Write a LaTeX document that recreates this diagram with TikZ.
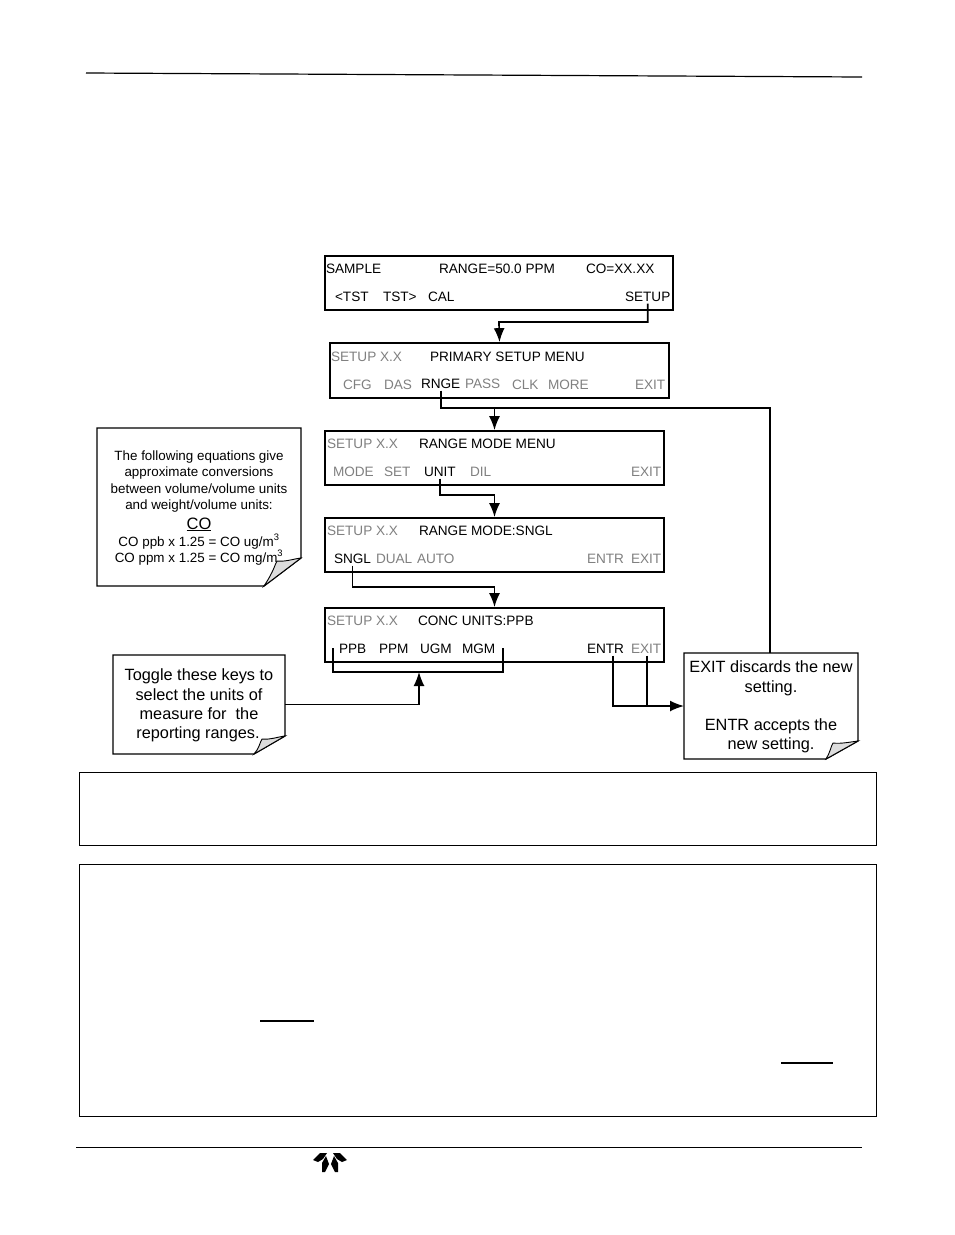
\documentclass[tikz,border=0pt]{standalone}
\usepackage{fontspec}
\setmainfont{Liberation Sans}
\usetikzlibrary{arrows.meta}
\definecolor{keygray}{HTML}{808080}
\definecolor{foldgray}{HTML}{DDDDDD}
\tikzset{
  menubox/.style={draw=black,line width=1.7pt,minimum height=54pt,inner sep=0pt},
  lab/.style={anchor=base west,inner sep=0pt,outer xsep=0pt,outer ysep=2.5pt,font=\fontsize{13.6pt}{16pt}\selectfont,text=black},
  off/.style={lab,text=keygray},
  notetxt/.style={anchor=base,inner sep=0pt,font=\fontsize{13.4pt}{16pt}\selectfont},
  bigtxt/.style={anchor=base,inner sep=0pt,font=\fontsize{16.3pt}{19pt}\selectfont},
  conn/.style={line width=1.7pt,draw=black},
  arrowed/.style={conn,-{Latex[length=14pt,width=11pt]}},
  thinconn/.style={line width=1.3pt,draw=black},
  frame/.style={draw=black,line width=1pt,inner sep=0pt},
  rule/.style={draw=black,line width=1.2pt},
  noteline/.style={draw=black,line width=1.3pt,fill=white},
  foldline/.style={draw=black,line width=0.9pt,fill=foldgray},
  petal/.style={fill=black,draw=none}
}
% note outline: #1 left, #2 top, #3 right, #4 bottom, #5 fold-x, #6 fold-y, #7 curve mid x, #8 curve mid y
\newcommand{\notepaper}[8]{%
  \draw[noteline] (#1,#2) -- (#3,#2) -- (#3,#6) -- (#5,#4) -- (#1,#4) -- cycle;
  \draw[foldline] (#5,#4) .. controls (#7-3,#8+10) and (#7-2,#8+3) .. (#7,#8) .. controls (#7+8,#8+1) and (#3-8,#6+1) .. (#3,#6) -- cycle;
}
\begin{document}
\begin{tikzpicture}[x=1pt,y=-1pt]
\useasboundingbox (0,0) rectangle (954,1235);
\fill[white] (0,0) rectangle (954,1235);

% page rules
\coordinate (hl) at (86,73); \coordinate (hr) at (862,77);
\draw[rule] (hl) -- (hr);
\coordinate (fl) at (76,1147); \coordinate (fr) at (862,1147);
\draw[line width=1pt] (fl) -- (fr);

% menu boxes
\node[menubox,minimum width=348pt] (b1) at (499,283) {};
\node[menubox,minimum width=339pt,minimum height=55pt] (b2) at (499.5,370.5) {};
\node[menubox,minimum width=339pt] (b3) at (494.5,458) {};
\node[menubox,minimum width=339pt] (b4) at (494.5,545) {};
\node[menubox,minimum width=339pt] (b5) at (494.5,635) {};

% box 1
\node[lab] (t1a) at (326,273) {SAMPLE};
\node[lab] (t1b) at (439,273) {RANGE=50.0 PPM};
\node[lab] (t1c) at (586,273) {CO=XX.XX};
\node[lab] (k1a) at (335,301) {<TST};
\node[lab] (k1b) at (383,301) {TST>};
\node[lab] (k1c) at (428,301) {CAL};
\node[lab] (setup) at (625,301) {SETUP};
% box 2
\node[off] (t2a) at (331,361) {SETUP X.X};
\node[lab] (t2b) at (430,361) {PRIMARY SETUP MENU};
\node[off] (k2a) at (343,389) {CFG};
\node[off] (k2b) at (384,389) {DAS};
\node[lab] (rnge) at (421,388) {RNGE};
\node[off] (k2d) at (465,388) {PASS};
\node[off] (k2e) at (512,389) {CLK};
\node[off] (k2f) at (548,389) {MORE};
\node[off] (k2g) at (635,389) {EXIT};
% box 3
\node[off] (t3a) at (327,448) {SETUP X.X};
\node[lab] (t3b) at (419,448) {RANGE MODE MENU};
\node[off] (k3a) at (333,476) {MODE};
\node[off] (k3b) at (384,476) {SET};
\node[lab] (unit) at (424,476) {UNIT};
\node[off] (k3d) at (470,476) {DIL};
\node[off] (k3e) at (631,476) {EXIT};
% box 4
\node[off] (t4a) at (327,535) {SETUP X.X};
\node[lab] (t4b) at (419,535) {RANGE MODE:SNGL};
\node[lab] (sngl) at (334,563) {SNGL};
\node[off] (k4b) at (376,563) {DUAL};
\node[off] (k4c) at (417,563) {AUTO};
\node[off] (k4d) at (587,563) {ENTR};
\node[off] (k4e) at (631,563) {EXIT};
% box 5
\node[off] (t5a) at (327,625) {SETUP X.X};
\node[lab] (t5b) at (418,625) {CONC UNITS:PPB};
\node[lab] (k5a) at (339,653) {PPB};
\node[lab] (k5b) at (379,653) {PPM};
\node[lab] (k5c) at (420,653) {UGM};
\node[lab] (k5d) at (462,653) {MGM};
\node[lab] (entr) at (587,653) {ENTR};
\node[off] (exit) at (631,653) {EXIT};

% notes
\notepaper{97}{428}{301}{586}{264}{558}{277}{561}
\notepaper{113}{655}{285}{754}{254}{736}{262}{739}
\notepaper{684}{653}{858}{759}{826}{741}{833}{743}
\node[inner sep=0pt,outer sep=0pt,minimum width=172pt,minimum height=99pt] (n2) at (199,704.5) {};
\node[inner sep=0pt,outer sep=0pt,minimum width=174pt,minimum height=106pt] (n3) at (771,706) {};

\node[notetxt] (a1) at (199,460) {The following equations give};
\node[notetxt] (a2) at (199,476) {approximate conversions};
\node[notetxt] (a3) at (199,493) {between volume/volume units};
\node[notetxt] (a4) at (199,509) {and weight/volume units:};
\node[bigtxt,font=\fontsize{16.5pt}{19pt}\selectfont] (a5) at (199,529) {\underline{CO}};
\node[notetxt] (a6) at (199,546) {CO ppb x 1.25 = CO ug/m\textsuperscript{3}};
\node[notetxt] (a7) at (199,562) {CO ppm x 1.25 = CO mg/m\textsuperscript{3}};

\node[bigtxt] (c1) at (199,680) {Toggle these keys to};
\node[bigtxt] (c2) at (199,700) {select the units of};
\node[bigtxt] (c3) at (199,719) {measure for\ \ the};
\node[bigtxt] (c4) at (198,738) {reporting ranges.};

\node[bigtxt] (d1) at (771,672) {EXIT discards the new};
\node[bigtxt] (d2) at (771,692) {setting.};
\node[bigtxt] (d3) at (771,730) {ENTR accepts the};
\node[bigtxt] (d4) at (771,749) {new setting.};

% connectors
\coordinate (j1) at (499,322);
\draw[arrowed] (setup.south) |- (j1) -- (b2.north);
\coordinate (j2) at (494.5,408);
\coordinate (j3) at (770,408);
\draw[conn] (rnge.south) |- (j2);
\draw[arrowed] (j2) -- (b3.north);
\draw[thinconn] (j2) -- (j3) -- (n3.north -| j3);
\coordinate (j4) at (494.5,495);
\draw[arrowed] (unit.south) |- (j4) -- (b4.north);
\coordinate (j5) at (494.5,587);
\draw[arrowed] (sngl.south) |- (j5) -- (b5.north);
\coordinate (br1) at (333,648); \coordinate (br2) at (333,672);
\coordinate (br3) at (503,672); \coordinate (br4) at (503,648);
\draw[conn] (br1) -- (br2) -- (br3) -- (br4);
\coordinate (br5) at (419,672);
\draw[arrowed,line width=1.5pt] (n2.east) -| (br5);
\draw[arrowed] ([xshift=7.6pt]entr.south) |- (n3.west);
\draw[conn] ([xshift=0.6pt]exit.south) -- ([xshift=0.6pt]exit.south |- n3.west);

% text boxes
\node[frame,minimum width=797.5pt,minimum height=73.5pt] (boxa) at (478,809) {};
\node[frame,minimum width=797.5pt,minimum height=252.5pt] (boxb) at (478,990.5) {};
\coordinate (u1) at (260,1021); \coordinate (u2) at (314,1021);
\draw[line width=1.2pt] (u1) -- (u2);
\coordinate (u3) at (781,1063); \coordinate (u4) at (833,1063);
\draw[line width=1.2pt] (u3) -- (u4);

% logo
\fill[petal] (313,1160) -- (320,1153) -- (327,1153) -- (323,1159) -- (318,1162) -- cycle;
\fill[petal] (347,1160) -- (340,1153) -- (333,1153) -- (337,1159) -- (342,1162) -- cycle;
\fill[petal] (326,1156) -- (322,1163) -- (322,1172) -- (325,1172) -- (329,1164) -- cycle;
\fill[petal] (334,1156) -- (338,1163) -- (338,1172) -- (335,1172) -- (331,1164) -- cycle;
\end{tikzpicture}
\end{document}
